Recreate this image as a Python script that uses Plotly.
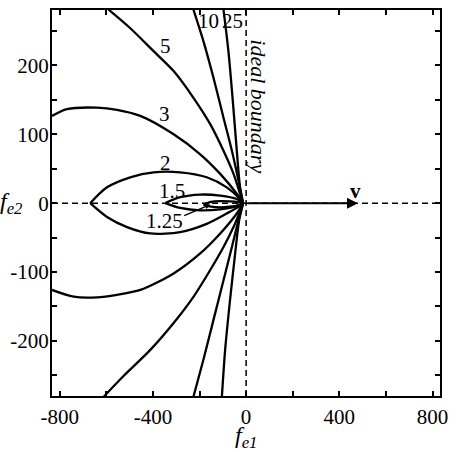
import plotly.graph_objects as go

# ---- contour curves (upper and lower halves) ----
c125_up_x = [-183, -150, -110, -70, -35, -13]
c125_up_y = [-2, 2, 3, 2.5, 1.5, 0]
c125_lo_x = [-183, -150, -110, -70, -35, -13]
c125_lo_y = [-2, -5, -6, -5, -3, 0]

c15_up_x = [-347, -283, -197, -111, -40, -13]
c15_up_y = [0, 8.7, 12.5, 11, 6, 0]
c15_lo_x = [-347, -283, -197, -111, -40, -13]
c15_lo_y = [0, -7, -10.5, -9, -4.3, 0]

c2_up_x = [-669, -597, -497, -397, -283, -169, -83, -26, -13]
c2_up_y = [0, 23, 37.6, 44.8, 44.8, 37.6, 23, 6, 0]
c2_lo_x = [-669, -597, -511, -411, -283, -169, -83, -26, -13]
c2_lo_y = [0, -20, -34.7, -44, -42, -30, -15, -4, 0]

c3_up_x = [-833, -769, -640, -554, -454, -311, -197, -111, -40, -13]
c3_up_y = [126.7, 136.6, 138.7, 135.6, 126.7, 100, 71, 42.5, 13.6, 0]
c3_lo_x = [-833, -740, -640, -554, -454, -311, -197, -111, -40, -13]
c3_lo_y = [-126, -135.8, -136.7, -133, -126, -102, -73, -44, -15, 0]

c5_up_x = [-590, -497, -397, -311, -226, -154, -97, -54, -26, -13]
c5_up_y = [281, 254, 220.7, 191.8, 153, 114.7, 76, 42.5, 13.6, 0]
c5_lo_x = [-611, -526, -411, -311, -226, -154, -97, -54, -26, -13]
c5_lo_y = [-281, -251, -213, -174, -136, -97, -63.6, -34.7, -12, 0]

c10_up_x = [-226, -183, -140, -97, -61, -33, -13]
c10_up_y = [281, 235, 182, 124, 76, 33, 0]
c10_lo_x = [-226, -183, -140, -97, -61, -33, -13]
c10_lo_y = [-281, -227, -169.5, -112, -63.6, -25, 0]

c25_up_x = [-97, -76, -57, -40, -26, -13]
c25_up_y = [281, 220.7, 148, 76, 23, 0]
c25_lo_x = [-104, -90, -69, -47, -30, -13]
c25_lo_y = [-281, -213, -140.6, -73, -25, 0]

# contour level labels
label_text = ["10", "25", "5", "3", "2", "1.5", "1.25"]
label_x = [-160, -60, -347, -350, -347, -319, -351]
label_y = [264, 265, 228, 130, 58.4, 18.4, -26]

# velocity arrow
v_end = 480

# axis ticks
x_ticks = [-800, -400, 0, 400, 800]
x_tick_text = ["-800", "-400", "0", "400", "800"]
y_ticks = [-200, -100, 0, 100, 200]
y_tick_text = ["-200", "-100", "0", "100", "200"]

FONT = "Liberation Serif"

fig = go.Figure()

halves = [
    (c125_up_x, c125_up_y), (c125_lo_x, c125_lo_y),
    (c15_up_x, c15_up_y), (c15_lo_x, c15_lo_y),
    (c2_up_x, c2_up_y), (c2_lo_x, c2_lo_y),
    (c3_up_x, c3_up_y), (c3_lo_x, c3_lo_y),
    (c5_up_x, c5_up_y), (c5_lo_x, c5_lo_y),
    (c10_up_x, c10_up_y), (c10_lo_x, c10_lo_y),
    (c25_up_x, c25_up_y), (c25_lo_x, c25_lo_y),
]
for hx, hy in halves:
    fig.add_trace(go.Scatter(
        x=hx, y=hy, mode="lines",
        line=dict(color="black", width=2.3, shape="spline", smoothing=0.8),
        showlegend=False, hoverinfo="skip",
    ))

# dashed reference lines
fig.add_shape(type="line", xref="paper", yref="y", x0=0, x1=1, y0=0, y1=0,
              line=dict(color="black", width=1.5, dash="6px,4px"), layer="below")
fig.add_shape(type="line", xref="x", yref="paper", x0=0, x1=0, y0=0, y1=1,
              line=dict(color="black", width=1.5, dash="6px,4px"), layer="below")

annotations = []
for t, lx, ly in zip(label_text, label_x, label_y):
    annotations.append(dict(x=lx, y=ly, xref="x", yref="y", text=t, showarrow=False,
                            font=dict(family=FONT, size=21, color="black")))

# leader line for 1.25
annotations.append(dict(x=-154, y=-2, ax=-272, ay=-19, xref="x", yref="y",
                        axref="x", ayref="y", text="", showarrow=True,
                        arrowhead=2, arrowsize=0.8, arrowwidth=1.3, arrowcolor="black"))

# velocity arrow
annotations.append(dict(x=v_end, y=0, ax=0, ay=0, xref="x", yref="y",
                        axref="x", ayref="y", text="", showarrow=True,
                        arrowhead=2, arrowsize=1.1, arrowwidth=2, arrowcolor="black"))
annotations.append(dict(x=468, y=18, xref="x", yref="y", text="<b>v</b>", showarrow=False,
                        font=dict(family=FONT, size=21, color="black")))

# ideal boundary
annotations.append(dict(x=54, y=141, xref="x", yref="y", text="<i>ideal boundary</i>",
                        textangle=90, showarrow=False,
                        font=dict(family=FONT, size=22, color="black")))

# axis titles
annotations.append(dict(x=0, y=-0.062, xref="x", yref="paper", yanchor="top",
                        text="<i>f</i><sub><i>e1</i></sub>",
                        showarrow=False, font=dict(family=FONT, size=24, color="black")))
annotations.append(dict(x=-0.104, y=0, xref="paper", yref="y", xanchor="center",
                        text="<i>f</i><sub><i>e2</i></sub>",
                        showarrow=False, font=dict(family=FONT, size=24, color="black")))

axis_common = dict(showgrid=False, zeroline=False, showline=True, linecolor="black",
                   linewidth=2, mirror="allticks", ticks="inside", ticklen=5,
                   tickwidth=1.5, tickcolor="black",
                   tickfont=dict(family=FONT, size=21, color="black"))

fig.update_layout(
    width=456, height=452,
    margin=dict(l=52, r=16, t=8, b=56),
    paper_bgcolor="white", plot_bgcolor="white",
    xaxis=dict(range=[-833, 832], tickvals=x_ticks, ticktext=x_tick_text,
               ticklabelstandoff=1,
               minor=dict(dtick=200, tick0=0, ticks="inside", ticklen=5, tickwidth=1.5,
                          tickcolor="black"),
               **axis_common),
    yaxis=dict(range=[-280, 280.5], tickvals=y_ticks, ticktext=y_tick_text,
               ticklabelstandoff=-3,
               minor=dict(dtick=50, tick0=0, ticks="inside", ticklen=5, tickwidth=1.5,
                          tickcolor="black"),
               **axis_common),
    annotations=annotations,
    showlegend=False,
)

fig.write_html("out.html")
